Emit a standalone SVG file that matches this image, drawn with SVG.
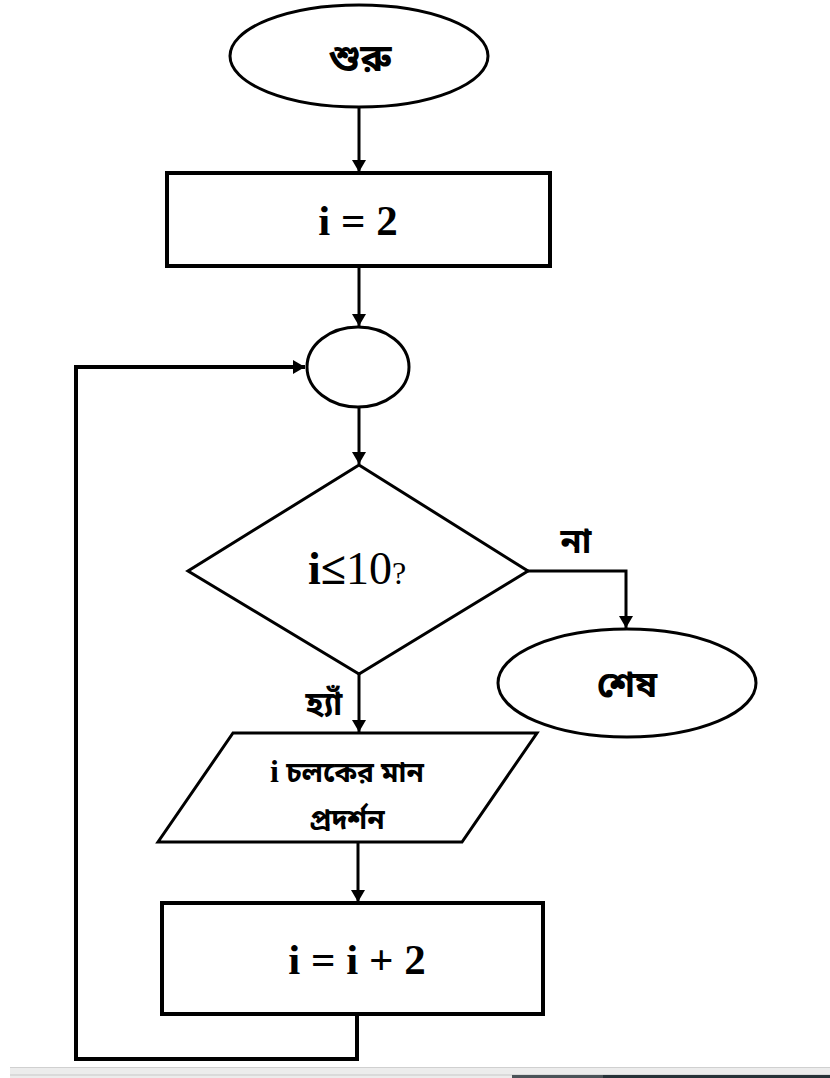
<svg xmlns="http://www.w3.org/2000/svg" width="830" height="1078" viewBox="0 0 830 1078">
  <style>
    .shape { fill: #ffffff; stroke: #000000; stroke-width: 3; }
    .box { fill: #ffffff; stroke: #000000; stroke-width: 4; }
    .line { fill: none; stroke: #000000; stroke-width: 3; }
    .loop { fill: none; stroke: #000000; stroke-width: 4; }
    .math { font-family: "Liberation Serif", "Times New Roman", serif; fill: #000000; text-anchor: middle; }
    .bn { font-family: "Noto Sans Bengali", "Noto Serif Bengali", "Lohit Bengali", "Noto Sans", sans-serif; font-weight: bold; fill: #000000; text-anchor: middle; }
  </style>
  <defs>
    <marker id="arrow" viewBox="0 0 12 14" refX="12" refY="7" markerWidth="12" markerHeight="14" markerUnits="userSpaceOnUse" orient="auto">
      <path d="M0,0 L12,7 L0,14 Z" fill="#000000"/>
    </marker>
  </defs>

  <rect x="0" y="0" width="830" height="1078" fill="#ffffff"/>

  <!-- connectors -->
  <g id="connectors">
    <line class="line" x1="359" y1="107" x2="359" y2="172" marker-end="url(#arrow)"/>
    <line class="line" x1="359" y1="266" x2="359" y2="326" marker-end="url(#arrow)"/>
    <line class="line" x1="359" y1="407" x2="359" y2="464" marker-end="url(#arrow)"/>
    <polyline class="line" points="528,571 626,571 626,628" marker-end="url(#arrow)"/>
    <line class="line" x1="359" y1="674" x2="359" y2="732" marker-end="url(#arrow)"/>
    <line class="line" x1="358" y1="842" x2="358" y2="902" marker-end="url(#arrow)"/>
    <polyline class="loop" points="357,1014 357,1059 76,1059 76,367 305,367" marker-end="url(#arrow)"/>
  </g>

  <!-- start -->
  <g id="start">
    <ellipse class="shape" cx="359" cy="56" rx="129" ry="51"/>
    <text class="bn" x="360" y="71" font-size="38">শুরু</text>
  </g>

  <!-- i = 2 -->
  <g id="init">
    <rect class="box" x="167" y="173" width="383" height="93"/>
    <text class="math" x="358" y="235" font-size="43" font-weight="bold">i = 2</text>
  </g>

  <!-- connector point -->
  <g id="junction">
    <ellipse class="shape" cx="358" cy="367" rx="51" ry="40"/>
  </g>

  <!-- condition -->
  <g id="condition">
    <polygon class="shape" points="359,465 528,571 359,674 188,571"/>
    <text class="math" x="357" y="584" font-size="46"><tspan font-weight="bold">i≤</tspan>10<tspan font-size="32">?</tspan></text>
    <text class="bn" x="576" y="553" font-size="34">না</text>
    <text class="bn" x="324" y="715" font-size="33">হ্যাঁ</text>
  </g>

  <!-- end -->
  <g id="end">
    <ellipse class="shape" cx="627" cy="683" rx="129" ry="54"/>
    <text class="bn" x="627" y="697" font-size="36">শেষ</text>
  </g>

  <!-- output -->
  <g id="output">
    <polygon class="shape" points="233,733 537,733 462,842 158,842"/>
    <text class="bn" x="347" y="782" font-size="28"><tspan class="math" font-weight="bold" font-size="32">i</tspan> চলকের মান</text>
    <text class="bn" x="347" y="829" font-size="28">প্রদর্শন</text>
  </g>

  <!-- increment -->
  <g id="increment">
    <rect class="box" x="162" y="903" width="381" height="111"/>
    <text class="math" x="357" y="974" font-size="43" font-weight="bold">i = i + 2</text>
  </g>

  <!-- window strip along the bottom edge -->
  <g id="strip">
    <rect x="10" y="1067" width="820" height="11" fill="#ececec"/>
    <line x1="10" y1="1067.5" x2="830" y2="1067.5" stroke="#d0d0d0" stroke-width="1"/>
    <line x1="10" y1="1075" x2="830" y2="1075" stroke="#c8c8c8" stroke-width="1"/>
    <rect x="512" y="1075" width="91" height="3" fill="#4a5358"/>
    <rect x="603" y="1075" width="227" height="3" fill="#263238"/>
  </g>
</svg>
